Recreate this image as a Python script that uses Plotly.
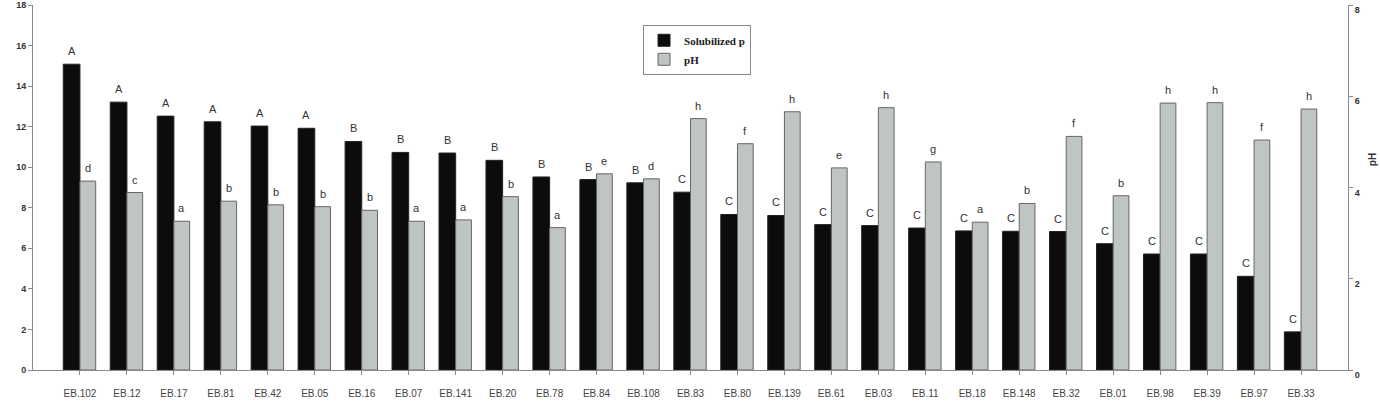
import plotly.graph_objects as go

categories = ["EB.102", "EB.12", "EB.17", "EB.81", "EB.42", "EB.05", "EB.16", "EB.07", "EB.141",
              "EB.20", "EB.78", "EB.84", "EB.108", "EB.83", "EB.80", "EB.139", "EB.61", "EB.03",
              "EB.11", "EB.18", "EB.148", "EB.32", "EB.01", "EB.98", "EB.39", "EB.97", "EB.33"]
solubilized_p = [15.08, 13.21, 12.52, 12.24, 12.03, 11.92, 11.27, 10.73, 10.70,
                 10.34, 9.52, 9.39, 9.23, 8.77, 7.67, 7.62, 7.17, 7.12,
                 7.00, 6.86, 6.84, 6.83, 6.23, 5.72, 5.72, 4.62, 1.88]
ph_values = [4.14, 3.89, 3.26, 3.70, 3.62, 3.58, 3.50, 3.26, 3.29,
             3.80, 3.12, 4.30, 4.19, 5.51, 4.96, 5.66, 4.43, 5.75,
             4.56, 3.24, 3.65, 5.12, 3.82, 5.85, 5.86, 5.04, 5.72]
p_letters = ["A", "A", "A", "A", "A", "A", "B", "B", "B", "B", "B", "B", "B", "C",
             "C", "C", "C", "C", "C", "C", "C", "C", "C", "C", "C", "C", "C"]
ph_letters = ["d", "c", "a", "b", "b", "b", "b", "a", "a", "b", "a", "e", "d", "h",
              "f", "h", "e", "h", "g", "a", "b", "f", "b", "h", "h", "f", "h"]
left_ticks = [0, 2, 4, 6, 8, 10, 12, 14, 16, 18]
right_ticks = [0, 2, 4, 6, 8]

fig = go.Figure()
fig.add_trace(go.Bar(
    x=categories, y=solubilized_p, name="Solubilized p",
    marker=dict(color="#0c0c0c", line=dict(color="#222222", width=1)),
    width=0.355, offset=-0.355, yaxis="y", cliponaxis=False,
))
fig.add_trace(go.Bar(
    x=categories, y=ph_values, name="pH",
    marker=dict(color="#bfc5c3", line=dict(color="#666666", width=1)),
    width=0.335, offset=0.0, yaxis="y2", cliponaxis=False,
))

annotations = []
lab_font = dict(family="Liberation Sans, Arial, sans-serif", size=11, color="#333333")
for c, v, t in zip(categories, solubilized_p, p_letters):
    annotations.append(dict(x=c, y=v, xref="x", yref="y", text=t, showarrow=False,
                            xanchor="center", yanchor="bottom", xshift=-8.3, yshift=5,
                            font=lab_font))
for c, v, t in zip(categories, ph_values, ph_letters):
    annotations.append(dict(x=c, y=v, xref="x", yref="y2", text=t, showarrow=False,
                            xanchor="center", yanchor="bottom", xshift=7.9, yshift=5,
                            font=lab_font))
annotations.append(dict(x=1.0183, y=0.575, xref="paper", yref="paper", text="<b>pH</b>",
                        showarrow=False, textangle=-90, xanchor="center", yanchor="middle",
                        font=dict(family="Liberation Sans, Arial, sans-serif", size=10, color="#333333")))

axis_line = "#8a8a8a"
fig.update_layout(
    width=1380, height=408,
    margin=dict(l=33, r=32, t=5, b=38, autoexpand=False),
    paper_bgcolor="white", plot_bgcolor="white",
    barmode="overlay",
    showlegend=True,
    legend=dict(x=0.4639, y=0.9458, xanchor="left", yanchor="top",
                bordercolor="#8a8a8a", borderwidth=1, bgcolor="white",
                font=dict(family="Liberation Serif, Times New Roman, serif", size=11, color="#222222",
                          weight="bold"),
                traceorder="normal", itemwidth=30, tracegroupgap=0),
    xaxis=dict(type="category", range=[-1, 27], showline=True, linecolor=axis_line, linewidth=1,
               ticks="outside", ticklen=4, tickcolor=axis_line, showgrid=False, zeroline=False,
               automargin=False,
               tickfont=dict(family="Liberation Sans, Arial, sans-serif", size=10, color="#444444"),
               ticklabelstandoff=10),
    yaxis=dict(range=[0, 18], tickvals=left_ticks, ticktext=[str(v) for v in left_ticks],
               showline=True, linecolor=axis_line, linewidth=1, ticks="outside", ticklen=4,
               tickcolor=axis_line, showgrid=False, zeroline=False, ticklabeloverflow="allow",
               automargin=False,
               tickfont=dict(family="Liberation Sans, Arial, sans-serif", size=9, color="#333333",
                             weight="bold")),
    yaxis2=dict(range=[0, 8], tickvals=right_ticks, ticktext=[str(v) for v in right_ticks],
                overlaying="y", side="right", showline=True, linecolor=axis_line, linewidth=1,
                ticks="outside", ticklen=4, tickcolor=axis_line, showgrid=False, zeroline=False,
                ticklabelshift=5, ticklabeloverflow="allow", automargin=False,
                tickfont=dict(family="Liberation Sans, Arial, sans-serif", size=9, color="#333333",
                              weight="bold")),
    annotations=annotations,
)

fig.write_html("out.html")
